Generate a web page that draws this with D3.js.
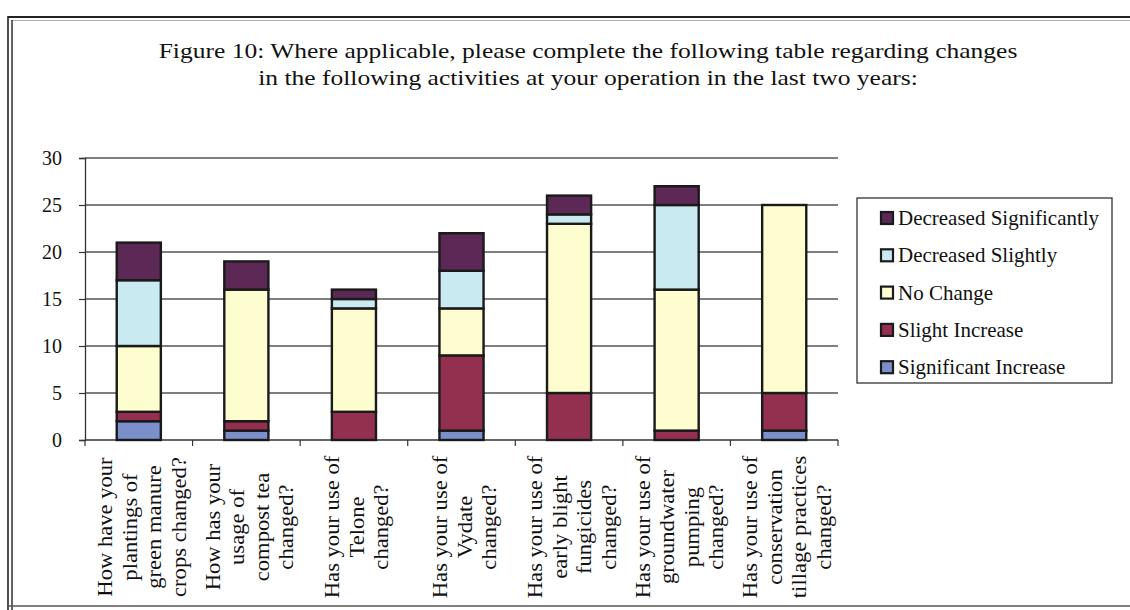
<!DOCTYPE html>
<html>
<head>
<meta charset="utf-8">
<script src="https://cdn.jsdelivr.net/npm/d3@7"></script>
<style>
  html, body { margin: 0; padding: 0; background: #fff; }
  svg { display: block; }
  text { font-family: "Liberation Serif", "DejaVu Serif", serif; fill: #111; }
</style>
</head>
<body>
<svg id="chart" width="1130" height="610"></svg>
<script>
// Survey question labels (one entry per line of the wrapped label)
const categories = [
  ["How have your", "plantings of", "green manure", "crops changed?"],
  ["How has your", "usage of", "compost tea", "changed?"],
  ["Has your use of", "Telone", "changed?"],
  ["Has your use of", "Vydate", "changed?"],
  ["Has your use of", "early blight", "fungicides", "changed?"],
  ["Has your use of", "groundwater", "pumping", "changed?"],
  ["Has your use of", "conservation", "tillage practices", "changed?"]
];

// Number of responses per answer, stacked bottom to top
const significantIncrease  = [2, 1, 0, 1, 0, 0, 1];
const slightIncrease       = [1, 1, 3, 8, 5, 1, 4];
const noChange             = [7, 14, 11, 5, 18, 15, 20];
const decreasedSlightly    = [7, 0, 1, 4, 1, 9, 0];
const decreasedSignificant = [4, 3, 1, 4, 2, 2, 0];

const seriesNames = ["Significant Increase", "Slight Increase", "No Change",
                     "Decreased Slightly", "Decreased Significantly"];
const seriesColors = ["#7b8fca", "#94304f", "#fdfdcf", "#c8eaf0", "#5c2855"];

const yTicks = [0, 5, 10, 15, 20, 25, 30];

const titleLines = [
  "Figure 10: Where applicable, please complete the following table regarding changes",
  "in the following activities at your operation in the last two years:"
];

const svg = d3.select("#chart");

// page frame
const frame = svg.append("g").attr("stroke", "#222").attr("fill", "none");
frame.append("line").attr("x1", 8).attr("x2", 1130).attr("y1", 17).attr("y2", 17).attr("stroke-width", 2);
frame.append("line").attr("x1", 12).attr("x2", 1130).attr("y1", 20.5).attr("y2", 20.5).attr("stroke-width", 0.8).attr("stroke", "#999");
frame.append("line").attr("x1", 8).attr("x2", 8).attr("y1", 16).attr("y2", 610).attr("stroke-width", 1.6);
frame.append("line").attr("x1", 12).attr("x2", 12).attr("y1", 20).attr("y2", 610).attr("stroke-width", 1.4);
frame.append("line").attr("x1", 8).attr("x2", 1130).attr("y1", 606).attr("y2", 606).attr("stroke-width", 1.6).attr("stroke", "#555");

// title (slightly widened serif, as in the printed figure)
svg.append("g").selectAll("text").data(titleLines).join("text")
  .attr("transform", (d, i) => `translate(588,${58 + i * 27}) scale(1.16,1)`)
  .attr("text-anchor", "middle")
  .attr("font-size", 22)
  .text(d => d);

// plot geometry
const plotLeft = 85, plotRight = 838, plotTop = 158, plotBottom = 440;

const x = d3.scaleBand().domain(d3.range(categories.length)).range([plotLeft, plotRight]).paddingInner(0).paddingOuter(0);
const y = d3.scaleLinear().domain([0, 30]).range([plotBottom, plotTop]);

// gridlines
svg.append("g").selectAll("line").data(yTicks.filter(t => t > 0)).join("line")
  .attr("x1", plotLeft).attr("x2", plotRight)
  .attr("y1", d => y(d)).attr("y2", d => y(d))
  .attr("stroke", "#555").attr("stroke-width", 1.3);

// y axis
const yAxis = svg.append("g")
  .attr("transform", `translate(${plotLeft},0)`)
  .call(d3.axisLeft(y).tickValues(yTicks).tickSize(6).tickPadding(17));
yAxis.select(".domain").attr("stroke", "#333").attr("stroke-width", 1.3);
yAxis.selectAll(".tick line").attr("stroke", "#333").attr("stroke-width", 1.2);
yAxis.selectAll(".tick text")
  .attr("font-size", 20).attr("font-family", "Liberation Serif, serif").attr("fill", "#111");

// x axis line and band boundary ticks
const xAxisG = svg.append("g");
xAxisG.append("line").attr("x1", plotLeft).attr("x2", plotRight).attr("y1", plotBottom).attr("y2", plotBottom)
  .attr("stroke", "#333").attr("stroke-width", 1.4);
const boundaries = d3.range(categories.length + 1).map(i => i < categories.length ? x(i) : x(i - 1) + x.bandwidth());
xAxisG.selectAll("line.tk").data(boundaries).join("line").attr("class", "tk")
  .attr("x1", d => d).attr("x2", d => d)
  .attr("y1", plotBottom).attr("y2", plotBottom + 6)
  .attr("stroke", "#333").attr("stroke-width", 1.2);

// stacked bars
const table = categories.map((c, i) => ({
  i,
  "Significant Increase": significantIncrease[i],
  "Slight Increase": slightIncrease[i],
  "No Change": noChange[i],
  "Decreased Slightly": decreasedSlightly[i],
  "Decreased Significantly": decreasedSignificant[i]
}));
const stacked = d3.stack().keys(seriesNames)(table);
const barW = x.bandwidth() * 0.41;

svg.append("g").selectAll("g").data(stacked).join("g")
  .attr("fill", (d, k) => seriesColors[k])
  .selectAll("rect").data(d => d.filter(s => s[1] > s[0])).join("rect")
  .attr("x", d => x(d.data.i) + x.bandwidth() / 2 - barW / 2)
  .attr("y", d => y(d[1]))
  .attr("width", barW)
  .attr("height", d => y(d[0]) - y(d[1]))
  .attr("stroke", "#1a1a1a")
  .attr("stroke-width", 2.4);

// rotated category labels
const labelG = svg.append("g");
categories.forEach((lines, i) => {
  const cx = x(i) + x.bandwidth() / 2;
  const n = lines.length;
  lines.forEach((ln, j) => {
    const lx = cx + 3 + (j - (n - 1) / 2) * 24.5;
    labelG.append("text")
      .attr("transform", `translate(${lx},527) rotate(-90) scale(1.13,1)`)
      .attr("text-anchor", "middle")
      .attr("dy", "0.35em")
      .attr("font-size", 20)
      .text(ln);
  });
});

// legend
const legend = svg.append("g");
legend.append("rect").attr("x", 857).attr("y", 198).attr("width", 255).attr("height", 185)
  .attr("fill", "#fff").attr("stroke", "#333").attr("stroke-width", 1.3);
const legendOrder = seriesNames.slice().reverse();
const legendItems = legend.selectAll("g.item").data(legendOrder).join("g").attr("class", "item")
  .attr("transform", (d, i) => `translate(881,${218 + i * 37.3})`);
legendItems.append("rect")
  .attr("x", 0).attr("y", -6).attr("width", 12).attr("height", 12)
  .attr("fill", d => seriesColors[seriesNames.indexOf(d)])
  .attr("stroke", "#1a1a1a").attr("stroke-width", 2.2);
legendItems.append("text")
  .attr("transform", "translate(17,0) scale(1.05,1)")
  .attr("dy", "0.35em")
  .attr("font-size", 20)
  .text(d => d);
</script>
</body>
</html>
